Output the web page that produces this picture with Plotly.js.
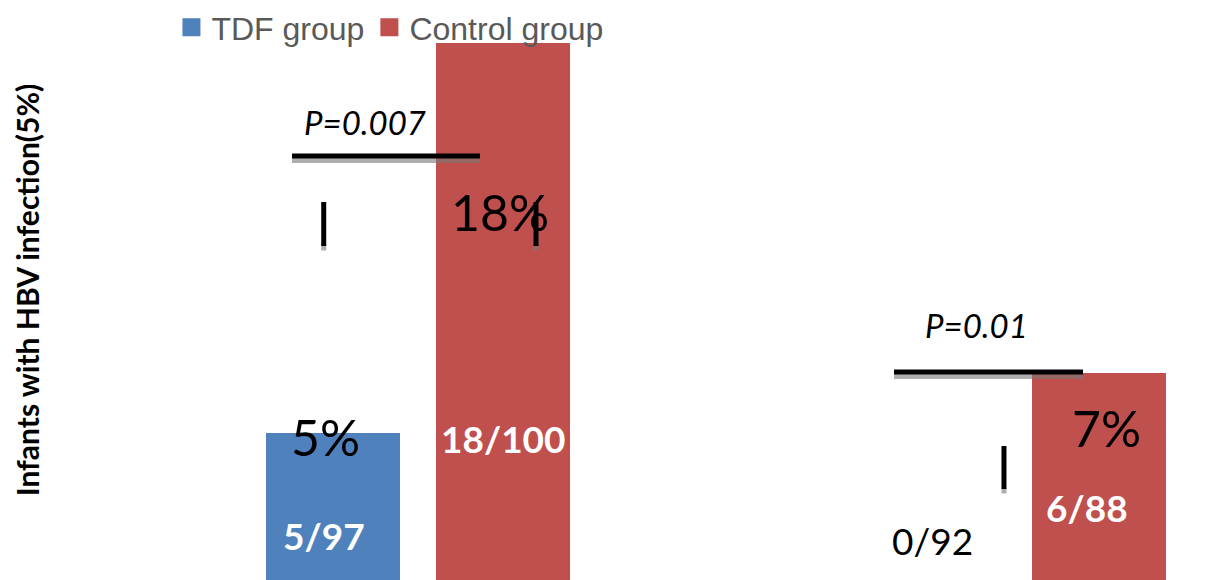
<!DOCTYPE html>
<html>
<head>
<meta charset="utf-8">
<script src="https://cdn.plot.ly/plotly-3.0.1.min.js"></script>
<style>html,body{margin:0;padding:0;background:#fff;}#chart{width:1209px;height:580px;}</style>
</head>
<body>
<div id="chart"></div>
<script>
// ---- data ----
var categories = ["Intention-to-treat", "Per-protocol"];
var seriesNames = ["TDF group", "Control group"];
var tdfPercent = [5, 0];
var controlPercent = [18, 7];
var tdfInfected = [5, 0];
var tdfTotal = [97, 92];
var controlInfected = [18, 6];
var controlTotal = [100, 88];
var pValues = ["P=0.007", "P=0.01"];
var yTitle = "Infants with HBV infection(5%)";

// ---- layout helpers ----
var BAR_OFF = 85 / 596; // offset of each bar centre from its category centre (category units)
var blue = "#4F81BD", red = "#C0504D";
var Y_BOTTOM = 0.1;

var traces = [
  {type: "bar", name: seriesNames[0], x: categories, y: tdfPercent, marker: {color: blue}, hoverinfo: "skip", showlegend: false},
  {type: "bar", name: seriesNames[1], x: categories, y: controlPercent, marker: {color: red}, hoverinfo: "skip", showlegend: false},
  // legend entries with larger square swatches
  {type: "scatter", mode: "markers", name: seriesNames[0], x: [null], y: [null],
    marker: {symbol: "square", color: blue, size: 16, line: {color: blue, width: 2}}, hoverinfo: "skip"},
  {type: "scatter", mode: "markers", name: seriesNames[1], x: [null], y: [null],
    marker: {symbol: "square", color: red, size: 16, line: {color: red, width: 2}}, hoverinfo: "skip"}
];

var annotations = [];
var pctFont = {family: "Lato, sans-serif", size: 50, color: "#000"};
var cntWhite = {family: "Lato, sans-serif", size: 37, color: "#fff", weight: 700};
var cntBlack = {family: "Lato, sans-serif", size: 37, color: "#000"};

// percentage labels: [series, cat, xshift, yshift from bar top]
var pctPos = [[0, 0, -8, -4], [1, 0, -3, -169], [1, 1, 8, -55]];
pctPos.forEach(function (p) {
  var vals = p[0] === 0 ? tdfPercent : controlPercent;
  annotations.push({x: p[1] + (p[0] === 0 ? -BAR_OFF : BAR_OFF), y: vals[p[1]], xref: "x", yref: "y",
    text: vals[p[1]] + "%", showarrow: false, font: pctFont, xshift: p[2], yshift: p[3],
    xanchor: "center", yanchor: "middle"});
});
// count labels: [series, cat, xshift, yshift above the bottom edge, white]
var cntPos = [[0, 0, -9, 45, true], [1, 0, 0, 142, true], [0, 1, 3, 40, false], [1, 1, -12, 73, true]];
cntPos.forEach(function (p) {
  var inf = p[0] === 0 ? tdfInfected : controlInfected;
  var tot = p[0] === 0 ? tdfTotal : controlTotal;
  annotations.push({x: p[1] + (p[0] === 0 ? -BAR_OFF : BAR_OFF), y: Y_BOTTOM, xref: "x", yref: "y",
    text: inf[p[1]] + "/" + tot[p[1]], showarrow: false, font: p[4] ? cntWhite : cntBlack,
    xshift: p[2], yshift: p[3], xanchor: "center", yanchor: "middle"});
});
// p-value labels
var pPos = [[0, -0.0889, 15.37], [1, 0.9364, 8.6]];
pPos.forEach(function (p) {
  annotations.push({x: p[1], y: p[2], xref: "x", yref: "y", text: "<i>" + pValues[p[0]] + "</i>",
    showarrow: false, font: {family: "Lato, sans-serif", size: 33, color: "#000"}, xanchor: "center", yanchor: "middle"});
});

// shapes: significance bars and small ticks (with grey shadow)
var shapes = [];
function hline(x0, x1, y) {
  shapes.push({type: "line", xref: "x", yref: "y", x0: x0, x1: x1, y0: y - 0.15, y1: y - 0.15, line: {color: "rgba(120,120,120,0.6)", width: 5}});
  shapes.push({type: "line", xref: "x", yref: "y", x0: x0, x1: x1, y0: y, y1: y, line: {color: "#000", width: 5}});
}
function vline(x, y0, y1) {
  shapes.push({type: "line", xref: "x", yref: "y", x0: x, x1: x, y0: y1 - 0.15, y1: y1 + 0.05, line: {color: "rgba(120,120,120,0.6)", width: 5}});
  shapes.push({type: "line", xref: "x", yref: "y", x0: x, x1: x, y0: y0, y1: y1, line: {color: "#000", width: 5}});
}
hline(-0.2114, 0.1040, 14.233);
hline(0.7987, 1.1158, 7.033);
vline(-0.1582, 12.7, 11.233);
vline(0.198, 12.7, 11.233);
vline(0.9832, 4.567, 3.133);

var layout = {
  width: 1209, height: 580,
  margin: {l: 60, r: 0, t: 0, b: 0, pad: 0},
  paper_bgcolor: "#fff", plot_bgcolor: "#fff",
  barmode: "group", bargap: 0.4295, bargroupgap: 0.2118,
  showlegend: true,
  legend: {orientation: "h", x: 0.097, y: 1.0, xanchor: "left", yanchor: "top",
    font: {family: "Liberation Sans, Arial, sans-serif", size: 32, color: "#595959"}, bgcolor: "rgba(0,0,0,0)"},
  xaxis: {type: "category", range: [-0.6007, 1.3272], showgrid: false, zeroline: false, showticklabels: false, showline: false, ticks: "", fixedrange: true},
  yaxis: {range: [Y_BOTTOM, 19.433], showgrid: false, zeroline: false, showticklabels: false, showline: false, ticks: "",
    title: {text: "<b>" + yTitle + "</b>", font: {family: "Lato, sans-serif", size: 30, color: "#000"}, standoff: 10}, automargin: false, fixedrange: true},
  annotations: annotations,
  shapes: shapes
};

Plotly.newPlot("chart", traces, layout, {displayModeBar: false, staticPlot: true});
</script>
</body>
</html>
